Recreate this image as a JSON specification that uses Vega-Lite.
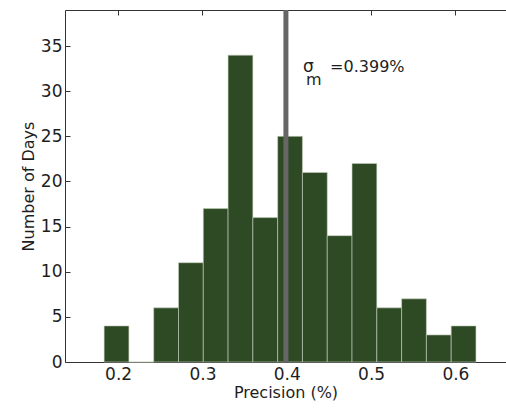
{
  "$schema": "https://vega.github.io/schema/vega-lite/v6.json",
  "width": 441,
  "height": 352,
  "autosize": {"type": "none"},
  "padding": {"left": 65, "top": 10, "right": 0, "bottom": 46},
  "background": "white",
  "config": {
    "view": {"stroke": null},
    "font": "DejaVu Sans",
    "axis": {"grid": false, "domainColor": "#333333", "tickColor": "#333333", "labelColor": "#1e1e1e", "titleColor": "#1e1e1e", "labelFont": "DejaVu Sans", "titleFont": "DejaVu Sans", "titleFontWeight": "normal"}
  },
  "datasets": {
    "bins": [
      {"start": 0.1834, "end": 0.2128, "count": 4},
      {"start": 0.2128, "end": 0.2422, "count": 0},
      {"start": 0.2422, "end": 0.2716, "count": 6},
      {"start": 0.2716, "end": 0.3010, "count": 11},
      {"start": 0.3010, "end": 0.3304, "count": 17},
      {"start": 0.3304, "end": 0.3598, "count": 34},
      {"start": 0.3598, "end": 0.3892, "count": 16},
      {"start": 0.3892, "end": 0.4186, "count": 25},
      {"start": 0.4186, "end": 0.4480, "count": 21},
      {"start": 0.4480, "end": 0.4774, "count": 14},
      {"start": 0.4774, "end": 0.5068, "count": 22},
      {"start": 0.5068, "end": 0.5362, "count": 6},
      {"start": 0.5362, "end": 0.5656, "count": 7},
      {"start": 0.5656, "end": 0.5950, "count": 3},
      {"start": 0.5950, "end": 0.6244, "count": 4}
    ],
    "mean": [{"value": 0.399}],
    "labels": [
      {"part": "sigma", "x": 0.4194, "y": 32.17, "text": "σ"},
      {"part": "sub", "x": 0.4229, "y": 30.72, "text": "m"},
      {"part": "value", "x": 0.4514, "y": 32.17, "text": "=0.399%"}
    ]
  },
  "resolve": {"axis": {"x": "independent", "y": "independent"}},
  "layer": [
    {
      "data": {"name": "bins"},
      "mark": {"type": "rect", "color": "#2e4a25", "stroke": "#c8d0c0", "strokeWidth": 0.6},
      "encoding": {
        "x": {"field": "start", "type": "quantitative",
          "scale": {"domain": [0.137, 0.66], "nice": false, "zero": false},
          "axis": {"title": "Precision (%)", "values": [0.2, 0.3, 0.4, 0.5, 0.6], "format": ".1f",
            "labelFontSize": 17, "titleFontSize": 16, "tickSize": -5, "labelPadding": 9, "titlePadding": 2, "domainWidth": 1}},
        "x2": {"field": "end"},
        "y": {"field": "count", "type": "quantitative",
          "scale": {"domain": [0, 39], "nice": false},
          "axis": {"title": "Number of Days", "values": [0, 5, 10, 15, 20, 25, 30, 35],
            "labelFontSize": 17, "titleFontSize": 16, "tickSize": -5, "labelPadding": 8, "titlePadding": 4, "domainWidth": 1}},
        "y2": {"datum": 0}
      }
    },
    {
      "data": {"name": "mean"},
      "mark": {"type": "rule", "color": "#666666", "strokeWidth": 5},
      "encoding": {
        "x": {"field": "value", "type": "quantitative",
          "axis": {"orient": "top", "title": null, "labels": false, "values": [0.2, 0.3, 0.4, 0.5, 0.6], "tickSize": -5, "domainWidth": 1}}
      }
    },
    {
      "data": {"name": "labels"},
      "transform": [{"filter": "datum.part === 'sigma'"}],
      "mark": {"type": "text", "align": "left", "baseline": "alphabetic", "fontSize": 17, "color": "#1e1e1e"},
      "encoding": {
        "x": {"field": "x", "type": "quantitative", "axis": null},
        "y": {"field": "y", "type": "quantitative", "axis": null},
        "text": {"field": "text"}
      }
    },
    {
      "data": {"name": "labels"},
      "transform": [{"filter": "datum.part === 'sub'"}],
      "mark": {"type": "text", "align": "left", "baseline": "alphabetic", "fontSize": 16, "color": "#1e1e1e"},
      "encoding": {
        "x": {"field": "x", "type": "quantitative", "axis": null},
        "y": {"field": "y", "type": "quantitative", "axis": null},
        "text": {"field": "text"}
      }
    },
    {
      "data": {"name": "labels"},
      "transform": [{"filter": "datum.part === 'value'"}],
      "mark": {"type": "text", "align": "left", "baseline": "alphabetic", "fontSize": 16, "color": "#1e1e1e"},
      "encoding": {
        "x": {"field": "x", "type": "quantitative", "axis": null},
        "y": {"field": "y", "type": "quantitative", "axis": null},
        "text": {"field": "text"}
      }
    }
  ]
}
